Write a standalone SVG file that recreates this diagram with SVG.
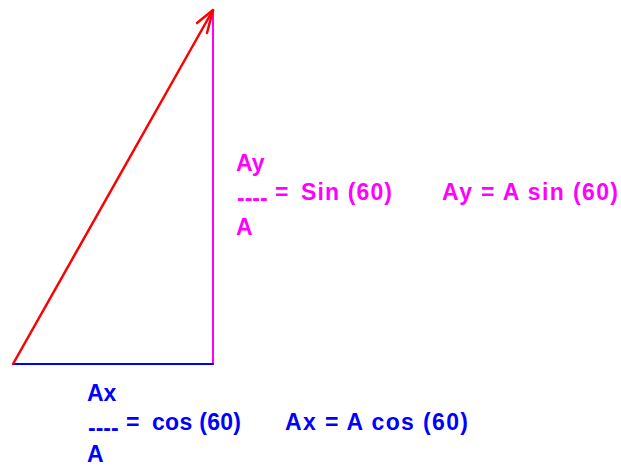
<svg xmlns="http://www.w3.org/2000/svg" width="621" height="467" viewBox="0 0 621 467">
<style>
.t{font-family:"Liberation Sans",Arial,sans-serif;font-weight:bold;font-size:23px}
.m{fill:#FF00FF}
.b{fill:#0000FF}
</style>
<rect width="621" height="467" fill="#FFFFFF"/>
<g id="connectors" fill="none" stroke-linecap="round">
<line id="ay-line" x1="213" y1="10" x2="213" y2="364" stroke="#FF00FF" stroke-width="2"/>
<line id="ax-line" x1="13" y1="364" x2="213" y2="364" stroke="#0000FF" stroke-width="2"/>
<line id="vector-a" x1="13" y1="364" x2="213" y2="10" stroke="#FF0000" stroke-width="2.5"/>
<polyline id="arrowhead" points="197,23 213,10 207,33" stroke="#FF0000" stroke-width="2.5" stroke-linejoin="round"/>
</g>
<g id="ay-label" class="t m">
<text x="236" y="171">Ay</text>
<text x="237" y="206">----</text>
<text x="275" y="200">=</text>
<text x="301" y="200" textLength="91" lengthAdjust="spacing">Sin (60)</text>
<text x="236" y="235">A</text>
<text x="442" y="200" textLength="176" lengthAdjust="spacing">Ay = A sin (60)</text>
</g>
<g id="ax-label" class="t b">
<text x="87" y="401">Ax</text>
<text x="88" y="436">----</text>
<text x="126" y="430">=</text>
<text x="152" y="430" textLength="89" lengthAdjust="spacing">cos (60)</text>
<text x="87" y="462">A</text>
<text x="285" y="430" textLength="183" lengthAdjust="spacing">Ax = A cos (60)</text>
</g>
</svg>
